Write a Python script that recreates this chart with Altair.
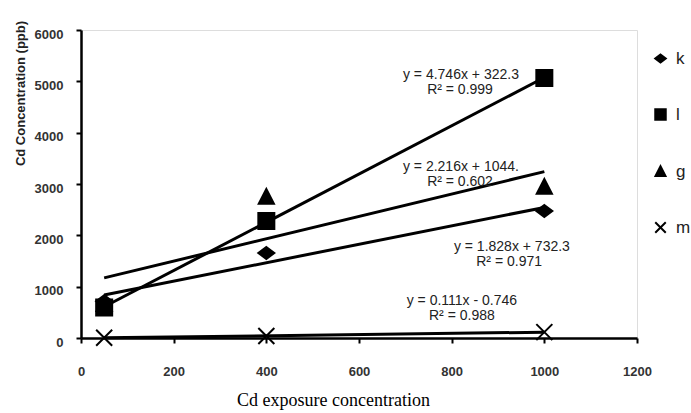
import altair as alt
import pandas as pd

# ---- data ----
series_names = ["k", "l", "g", "m"]
exposure = [50, 400, 1000]
k_values = [718, 1656, 2474]
l_values = [594, 2279, 5065]
g_values = [657, 2747, 2941]
m_values = [5, 40, 115]

x_ticks = [0, 200, 400, 600, 800, 1000, 1200]
y_ticks = [0, 1000, 2000, 3000, 4000, 5000, 6000]

eq_lines = ["y = 4.746x + 322.3", "R² = 0.999",
            "y = 2.216x + 1044.", "R² = 0.602",
            "y = 1.828x + 732.3", "R² = 0.971",
            "y = 0.111x - 0.746", "R² = 0.988"]
# anchor of each equation line, in data units
eq_x = [820, 818, 820, 818, 930, 924, 822, 822]
eq_y = [5123, 4831, 3331, 3039, 1773, 1481, 721, 429]

rows = []
for name, vals in zip(series_names, [k_values, l_values, g_values, m_values]):
    for xv, yv in zip(exposure, vals):
        rows.append({"series": name, "x": xv, "y": yv})
df = pd.DataFrame(rows)
eq_df = pd.DataFrame({"text": eq_lines, "x": eq_x, "y": eq_y})

shape_paths = [
    "M0,-0.75L1,0L0,0.75L-1,0Z",
    "M-1,-1H1V1H-1Z",
    "M0,-1L0.95,0.85L-0.95,0.85Z",
    "M-1,-1L1,1M-1,1L1,-1",
]
black4 = ["black"] * 4

x_enc = alt.X("x:Q", scale=alt.Scale(domain=[0, 1200], nice=False, zero=False),
              axis=alt.Axis(values=x_ticks, format="d",
                            title="Cd exposure concentration",
                            titleFont="Liberation Serif", titleFontSize=18,
                            titleFontWeight="normal", titleColor="black",
                            titleX=252, titleY=62, titleAlign="center",
                            titleBaseline="middle", titleAnchor="start",
                            labelFont="Liberation Sans", labelFontSize=13,
                            labelColor="#333", labelFontWeight="bold",
                            labelPadding=22, tickSize=5, tickWidth=2,
                            tickColor="black", domainColor="black",
                            domainWidth=2.5, grid=False, labelFlush=False))
y_enc = alt.Y("y:Q", scale=alt.Scale(domain=[0, 6000], nice=False),
              axis=alt.Axis(values=y_ticks, format="d",
                            title="Cd Concentration (ppb)",
                            titleFont="Liberation Sans", titleFontSize=13,
                            titleFontWeight="bold", titleColor="#222",
                            titleX=-61, titleY=63, titleAlign="center",
                            titleBaseline="middle", titleAngle=-90,
                            labelFont="Liberation Sans", labelFontSize=13,
                            labelColor="#333", labelFontWeight="bold",
                            labelPadding=13, labelOffset=4, tickSize=5,
                            tickWidth=2, tickColor="black",
                            domainColor="black", domainWidth=2.5,
                            grid=False, labelFlush=False))

legend = alt.Legend(title=None, orient="none", legendX=571, legendY=20,
                    rowPadding=38, padding=0, symbolSize=110,
                    symbolStrokeWidth=2,
                    labelFont="Liberation Sans", labelFontSize=17,
                    labelColor="#222", labelOffset=7)

base = alt.Chart(df)

lines = base.transform_regression(
    "x", "y", groupby=["series"], extent=[50, 1000]
).mark_line(color="black", strokeWidth=3).encode(
    x="x:Q", y="y:Q", detail="series:N"
)

points = base.mark_point(filled=True, strokeWidth=2, size=256,
                         opacity=1).encode(
    x=x_enc, y=y_enc,
    shape=alt.Shape("series:N",
                    scale=alt.Scale(domain=series_names, range=shape_paths),
                    legend=legend),
    fill=alt.Fill("series:N",
                  scale=alt.Scale(domain=series_names, range=black4),
                  legend=legend),
    stroke=alt.Stroke("series:N",
                      scale=alt.Scale(domain=series_names, range=black4),
                      legend=legend),
)

texts = alt.Chart(eq_df).mark_text(
    font="Liberation Sans", fontSize=14, color="#222", align="center",
    baseline="middle"
).encode(x="x:Q", y="y:Q", text="text:N")

chart = alt.layer(lines, points, texts).properties(
    width=556, height=308,
    autosize=alt.AutoSizeParams(type="none"),
    padding={"left": 81, "top": 30, "right": 54, "bottom": 75},
).configure_view(stroke=None).configure(background="white")

chart.save("out.html", embed_options={"renderer": "svg", "actions": False})
